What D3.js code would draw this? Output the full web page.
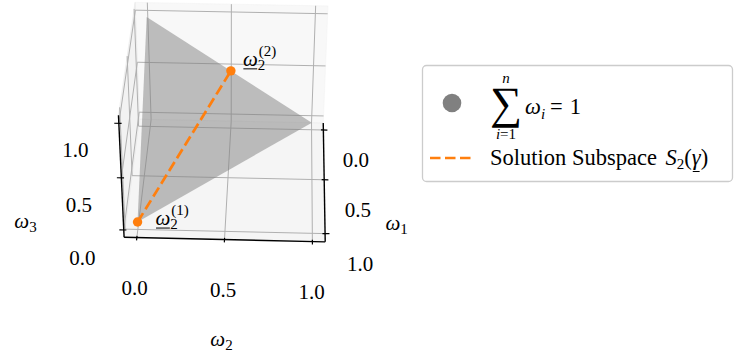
<!DOCTYPE html>
<html>
<head>
<meta charset="utf-8">
<script src="https://cdn.jsdelivr.net/npm/d3@7"></script>
<style>
  body { margin: 0; background: #fff; }
  svg { display: block; }
  text { font-family: "Liberation Serif", "DejaVu Serif", serif; fill: #000; }
</style>
</head>
<body>
<svg id="chart" width="736" height="356"></svg>
<script>
// ---- data ----
const tickValues = [0, 0.5, 1.0]
const tickLabels = ["0.0", "0.5", "1.0"]
const axisSubs = ["1", "2", "3"]              // omega_1, omega_2, omega_3
const simplex = [[1, 0, 0], [0, 1, 0], [0, 0, 1]]   // sum w_i = 1
const solution = [[1, 0, 0], [0, 0.5, 0.5]]          // S_2(gamma)
const solutionTags = ["(1)", "(2)"]
const legendLine = "Solution Subspace "

// ---- view (matplotlib style 3d projection) ----
const elev = 36, azim = 2, dist = 10
const lo = -0.0729, hi = 1.0729
const K = 1724, cx = 228, cy = 119.4
const rad = Math.PI / 180
const E = elev * rad, A = azim * rad
const w = [Math.cos(E) * Math.cos(A), Math.cos(E) * Math.sin(A), Math.sin(E)]
const u = [-Math.sin(A), Math.cos(A), 0]
const v = [w[1]*u[2] - w[2]*u[1], w[2]*u[0] - w[0]*u[2], w[0]*u[1] - w[1]*u[0]]
const aspect = [4, 4, 3]
const norm = Math.hypot(...aspect)
const box = aspect.map(a => a / norm * 1.8294640721620434)
const scales = box.map(L => d3.scaleLinear().domain([lo, hi]).range([-L/2, L/2]))

function project(p) {
    const q = p.map((d, i) => scales[i](d))
    const dot = a => a[0]*q[0] + a[1]*q[1] + a[2]*q[2]
    const f = K / (dist - dot(w))
    return [cx + dot(u) * f, cy - dot(v) * f]
}
const line3 = d3.line().x(p => project(p)[0]).y(p => project(p)[1])

const fs = 21, fsSmall = 15, fsLeg = 22.5
const svg = d3.select('#chart')
svg.append('rect').attr('width', 736).attr('height', 356).attr('fill', '#fff')

// panes
const panes = [
    {fill: 'rgba(242,242,242,0.5)', pts: [[lo,lo,lo],[lo,hi,lo],[lo,hi,hi],[lo,lo,hi]]},
    {fill: 'rgba(230,230,230,0.5)', pts: [[lo,lo,lo],[hi,lo,lo],[hi,lo,hi],[lo,lo,hi]]},
    {fill: 'rgba(236,236,236,0.5)', pts: [[lo,lo,lo],[hi,lo,lo],[hi,hi,lo],[lo,hi,lo]]}
]
svg.append('g').selectAll('path')
    .data(panes)
    .join('path')
        .attr('d', d => line3(d.pts) + 'Z')
        .attr('fill', d => d.fill)
        .attr('stroke', d => d.fill)

// grid
const grid = []
tickValues.forEach(t => {
    grid.push([[t,hi,lo],[t,lo,lo],[t,lo,hi]])
    grid.push([[hi,t,lo],[lo,t,lo],[lo,t,hi]])
    grid.push([[lo,hi,t],[lo,lo,t],[hi,lo,t]])
})
svg.append('g').selectAll('path')
    .data(grid)
    .join('path')
        .attr('d', line3)
        .attr('fill', 'none')
        .attr('stroke', '#b0b0b0')
        .attr('stroke-width', 1)

// axis lines
const axes = [
    [[lo,hi,lo],[hi,hi,lo]],
    [[hi,lo,lo],[hi,hi,lo]],
    [[hi,lo,lo],[hi,lo,hi]]
]
svg.append('g').selectAll('path')
    .data(axes)
    .join('path')
        .attr('d', line3)
        .attr('fill', 'none')
        .attr('stroke', '#000')
        .attr('stroke-width', 1.4)

// ticks
const tin = 0.015, tout = 0.025
const tickSegs = []
tickValues.forEach(t => {
    tickSegs.push([[t,hi-tin,lo],[t,hi+tout,lo]])
    tickSegs.push([[hi-tin,t,lo],[hi+tout,t,lo]])
    tickSegs.push([[hi,lo+tin,t],[hi,lo-tout,t]])
})
svg.append('g').selectAll('path')
    .data(tickSegs)
    .join('path')
        .attr('d', line3)
        .attr('stroke', '#000')
        .attr('stroke-width', 1.2)

// tick labels
const tickPos = [
    t => [t, hi + 0.21, lo - 0.30],
    t => [hi + 0.235, t, lo - 0.235],
    t => [hi + 0.25, lo - 0.21, t]
]
tickPos.forEach(pos => {
    svg.append('g').selectAll('text')
        .data(tickValues)
        .join('text')
            .attr('x', t => project(pos(t))[0])
            .attr('y', t => project(pos(t))[1] + 7)
            .attr('text-anchor', 'middle')
            .attr('font-size', fs)
            .text((t, i) => tickLabels[i])
})

// axis labels
const axisLabelPos = [
    [0.5, hi + 0.45, lo - 0.46],
    [hi + 0.47, 0.5, lo - 0.47],
    [hi + 0.42, lo - 0.48, 0.5]
]
axisLabelPos.forEach((p, i) => {
    const [x, y] = project(p)
    const t = svg.append('text').attr('x', x).attr('y', y + 4).attr('text-anchor', 'middle')
    t.append('tspan').attr('font-style', 'italic').attr('font-size', fs).text('ω')
    t.append('tspan').attr('font-size', fsSmall).attr('dy', 4).text(axisSubs[i])
})

// simplex
svg.append('path')
    .attr('d', line3(simplex) + 'Z')
    .attr('fill', 'gray')
    .attr('fill-opacity', 0.5)

// solution subspace
svg.append('path')
    .attr('d', line3(solution))
    .attr('fill', 'none')
    .attr('stroke', '#ff7f0e')
    .attr('stroke-width', 2.7)
    .attr('stroke-dasharray', '10.5,4.5')
svg.append('g').selectAll('circle')
    .data(solution)
    .join('circle')
        .attr('cx', d => project(d)[0])
        .attr('cy', d => project(d)[1])
        .attr('r', 4.7)
        .attr('fill', '#ff7f0e')

// underlined omega with sub/superscript
function omegaLabel(g, x0, base, sub, sup) {
    const om = g.append('text').attr('x', x0).attr('y', base)
        .attr('font-style', 'italic').attr('font-size', fs).text('ω')
    const len = om.node().getComputedTextLength()
    g.append('line').attr('x1', x0 + 0.5).attr('x2', x0 + len - 0.5)
        .attr('y1', base + 3).attr('y2', base + 3)
        .attr('stroke', '#000').attr('stroke-width', 1)
    g.append('text').attr('x', x0 + len).attr('y', base + 4).attr('font-size', fsSmall).text(sub)
    if (sup) g.append('text').attr('x', x0 + len + 1).attr('y', base - 10).attr('font-size', fsSmall).text(sup)
}
const tagOffsets = [[18, 3], [12, -5]]
solution.forEach((p, i) => {
    const [x, y] = project(p)
    omegaLabel(svg, x + tagOffsets[i][0], y + tagOffsets[i][1], '2', solutionTags[i])
})

// legend
const lg = svg.append('g')
lg.append('rect')
    .attr('x', 422.5).attr('y', 65.5).attr('width', 310).attr('height', 116).attr('rx', 4)
    .attr('fill', '#fff').attr('fill-opacity', 0.8)
    .attr('stroke', '#cccccc').attr('stroke-width', 1.3)
lg.append('circle').attr('cx', 452).attr('cy', 103).attr('r', 9.3).attr('fill', 'gray')
lg.append('text').attr('x', 506).attr('y', 118).attr('text-anchor', 'middle').attr('font-size', 45).text('∑')
lg.append('text').attr('x', 506).attr('y', 83).attr('text-anchor', 'middle')
    .attr('font-size', fsSmall).attr('font-style', 'italic').text('n')
const il = lg.append('text').attr('x', 506).attr('y', 139).attr('text-anchor', 'middle').attr('font-size', fsSmall)
il.append('tspan').attr('font-style', 'italic').text('i')
il.append('tspan').text('=1')
const sl = lg.append('text').attr('x', 525).attr('y', 114)
sl.append('tspan').attr('font-style', 'italic').attr('font-size', fsLeg).text('ω')
sl.append('tspan').attr('font-style', 'italic').attr('font-size', fsSmall).attr('dy', 5).text('i')
sl.append('tspan').attr('font-size', fsLeg).attr('dy', -5).attr('dx', 5).text('=')
sl.append('tspan').attr('font-size', fsLeg).attr('dx', 7).text('1')

lg.append('line')
    .attr('x1', 430).attr('x2', 474).attr('y1', 158).attr('y2', 158)
    .attr('stroke', '#ff7f0e').attr('stroke-width', 2.7)
    .attr('stroke-dasharray', '10.5,4.5')
const tl = lg.append('text').attr('x', 490).attr('y', 165).attr('font-size', fsLeg)
tl.append('tspan').text(legendLine)
tl.append('tspan').attr('font-style', 'italic').attr('dx', 3).text('S')
tl.append('tspan').attr('font-size', fsSmall).attr('dy', 4).text('2')
tl.append('tspan').attr('dy', -4).text('(')
const gam = tl.append('tspan').attr('font-style', 'italic').text('γ')
tl.append('tspan').text(')')
const gb = gam.node().getExtentOfChar(0)
lg.append('line')
    .attr('x1', gb.x + 1).attr('x2', gb.x + gb.width - 1)
    .attr('y1', 171.5).attr('y2', 171.5)
    .attr('stroke', '#000').attr('stroke-width', 1)
</script>
</body>
</html>
